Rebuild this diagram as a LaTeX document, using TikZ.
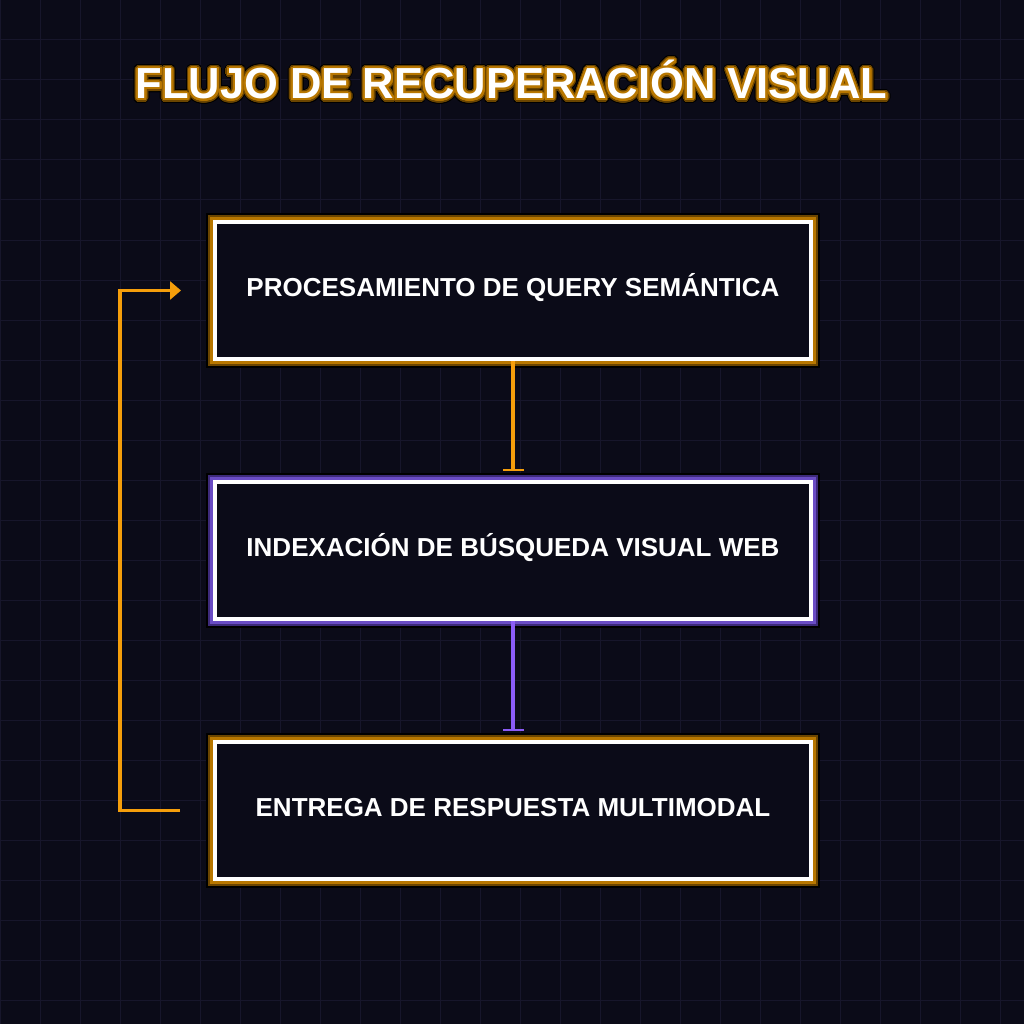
\documentclass[tikz,border=0pt]{standalone}
\usepackage{fontspec}
\setmainfont{Liberation Sans}
\usepackage[copies]{contour}
\usetikzlibrary{arrows.meta}

\definecolor{bgdark}{HTML}{0B0B18}
\definecolor{gridline}{HTML}{17162B}
\definecolor{amber}{HTML}{F59E0B}
\definecolor{amberglow}{HTML}{B87700}
\definecolor{amberdeep}{HTML}{6B4500}
\definecolor{violet}{HTML}{8B5CF6}
\definecolor{violetglow}{HTML}{6A4CC4}
\definecolor{violetdeep}{HTML}{3D2A7A}

\tikzset{
  flowbox/.style={draw=white, line width=4pt, fill=bgdark, inner sep=0pt,
    minimum width=596pt, minimum height=137pt, text=white,
    font=\bfseries\fontsize{26}{26}\selectfont, text height=11pt, text depth=0pt},
  amberbox/.style={flowbox,
    preaction={draw=black, line width=18pt},
    preaction={draw=amberdeep, line width=14.5pt},
    preaction={draw=amberglow, line width=10.5pt}},
  violetbox/.style={flowbox,
    preaction={draw=black, line width=18pt},
    preaction={draw=violetdeep, line width=14.5pt},
    preaction={draw=violetglow, line width=10.5pt}},
  titletext/.style={font=\bfseries\fontsize{43.5}{43.5}\selectfont, text=white,
    inner sep=0pt, text height=30pt, text depth=0pt},
  flowline/.style={line width=3.5pt, shorten >=9pt, -{Bar[width=21pt, line width=2.5pt]}}
}

\begin{document}
\begin{tikzpicture}[x=1pt, y=-1pt]

  % fondo y rejilla
  \fill[bgdark] (0,0) rectangle (1024,1024);
  \useasboundingbox (0,0) rectangle (1024,1024);
  \foreach \g in {0,40,...,1000} {
    \draw[gridline, line width=1pt] (\g,0) -- (\g,1024);
    \draw[gridline, line width=1pt] (0,\g) -- (1024,\g);
  }

  % titulo
  \contournumber{32}
  \node[titletext] (titleedge) at (511.5,84) {\contourlength{4.5pt}\contour{black}{FLUJO DE RECUPERACIÓN VISUAL}};
  \node[titletext] (titleshade) at (511.5,84) {\contourlength{3.5pt}\contour{amberdeep}{FLUJO DE RECUPERACIÓN VISUAL}};
  \node[titletext] (title) at (511.5,84) {\contourlength{2pt}\contour{amberglow}{FLUJO DE RECUPERACIÓN VISUAL}};

  % etapas
  \node[amberbox] (query) at (513,290.5) {PROCESAMIENTO DE QUERY SEMÁNTICA};
  \node[violetbox] (index) at (513,550.5) {INDEXACIÓN DE BÚSQUEDA VISUAL WEB};
  \node[amberbox] (deliver) at (513,810.5) {ENTREGA DE RESPUESTA MULTIMODAL};

  % conexiones
  \draw[flowline, amber] (query.south) -- (index.north);
  \draw[flowline, violet] (index.south) -- (deliver.north);

  % retorno
  \coordinate (loopout) at ([xshift=-33pt]deliver.west);
  \coordinate (loopin) at ([xshift=-32pt]query.west);
  \draw[amber, line width=3.5pt, -{Triangle[length=11pt, width=18pt]}]
    (loopout) -- ++(-60,0) |- (loopin);

\end{tikzpicture}
\end{document}
